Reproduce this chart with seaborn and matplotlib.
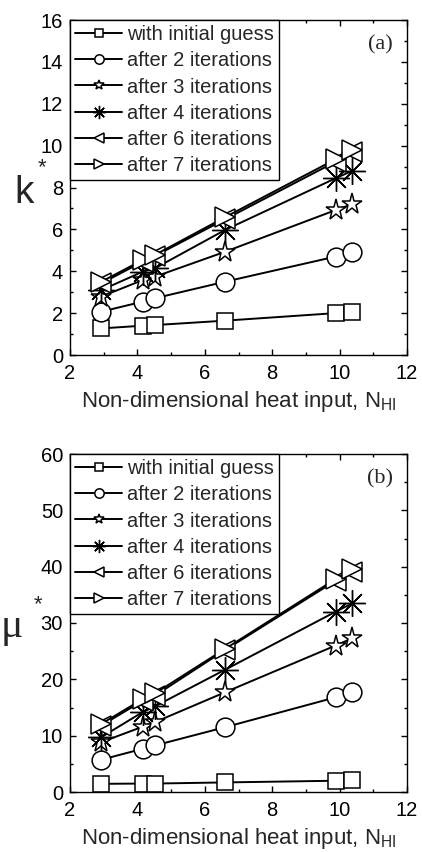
import matplotlib
matplotlib.use("Agg")
import matplotlib.pyplot as plt
from matplotlib.ticker import MultipleLocator
import pandas as pd
import seaborn as sns

# ── Data ──────────────────────────────────────────────────────────────────────
n_hi = [2.93, 4.16, 4.52, 6.6, 9.88, 10.38]

series_labels = [
    "with initial guess",
    "after 2 iterations",
    "after 3 iterations",
    "after 4 iterations",
    "after 6 iterations",
    "after 7 iterations",
]

k_initial = [1.27, 1.40, 1.43, 1.64, 2.00, 2.05]
k_iter2   = [2.07, 2.55, 2.71, 3.50, 4.70, 4.93]
k_iter3   = [2.79, 3.58, 3.74, 4.93, 6.92, 7.21]
k_iter4   = [3.10, 3.98, 4.14, 5.97, 8.44, 8.80]
k_iter6   = [3.42, 4.46, 4.73, 6.48, 9.23, 9.71]
k_iter7   = [3.50, 4.54, 4.78, 6.58, 9.35, 9.79]

mu_initial = [1.45, 1.50, 1.50, 1.70, 2.00, 2.10]
mu_iter2   = [5.73, 7.68, 8.26, 11.5, 16.8, 17.7]
mu_iter3   = [8.85, 11.6, 12.4, 17.7, 26.0, 27.3]
mu_iter4   = [9.73, 14.2, 15.2, 21.7, 32.0, 33.5]
mu_iter6   = [11.8, 16.2, 17.1, 25.2, 37.5, 39.1]
mu_iter7   = [12.1, 16.5, 17.5, 25.4, 37.8, 39.5]

k_series  = [k_initial, k_iter2, k_iter3, k_iter4, k_iter6, k_iter7]
mu_series = [mu_initial, mu_iter2, mu_iter3, mu_iter4, mu_iter6, mu_iter7]

# marker style per series (square, circle, star, asterisk, left/right triangle)
markers = ["s", "o", "*", (8, 2, 0), "<", ">"]
msizes  = [11.5, 13.5, 15.5, 19, 14.5, 14.5]
medges  = [1.1, 1.1, 1.1, 1.0, 1.1, 1.1]


def long_table(series):
    rows = []
    for lab, vals in zip(series_labels, series):
        for x, v in zip(n_hi, vals):
            rows.append({"N_HI": x, "value": v, "series": lab})
    return pd.DataFrame(rows)


# ── Style ─────────────────────────────────────────────────────────────────────
sns.set_style("ticks")
plt.rcParams["font.family"] = ["Liberation Sans", "DejaVu Sans"]
plt.rcParams["mathtext.default"] = "regular"

fig = plt.figure(figsize=(4.22, 8.52), dpi=100)
W, H = 422, 852


def rect(left, top, right, bottom):
    return [left / W, 1 - bottom / H, (right - left) / W, (bottom - top) / H]


ax_k  = fig.add_axes(rect(70, 20, 407, 355))
ax_mu = fig.add_axes(rect(70, 454, 407, 792))


def draw_panel(ax, series, ymax, ymajor, tag):
    df = long_table(series)
    for lab, mk, ms, mew in zip(series_labels, markers, msizes, medges):
        sub = df[df["series"] == lab]
        sns.lineplot(
            data=sub, x="N_HI", y="value",
            ax=ax, color="black", linewidth=1.4,
            marker=mk, markersize=ms,
            markerfacecolor="white", markeredgecolor="black",
            markeredgewidth=mew,
            estimator=None, sort=False, label=lab,
            clip_on=False,
        )

    ax.set_xlim(2, 12)
    ax.set_ylim(0, ymax)
    ax.xaxis.set_major_locator(MultipleLocator(2))
    ax.xaxis.set_minor_locator(MultipleLocator(1))
    ax.yaxis.set_major_locator(MultipleLocator(ymajor))
    ax.yaxis.set_minor_locator(MultipleLocator(ymajor / 2))
    ax.tick_params(which="both", direction="in", top=True, right=True,
                   width=1.0, colors="black")
    ax.tick_params(which="major", length=4.5, labelsize=14.5)
    ax.tick_params(axis="x", which="major", pad=6.5)
    ax.tick_params(axis="y", which="major", pad=5)
    ax.tick_params(which="minor", length=2.5)
    for sp in ax.spines.values():
        sp.set_visible(True)
        sp.set_linewidth(1.0)
        sp.set_color("black")

    ax.set_xlabel("Non-dimensional heat input, N$_{\\mathregular{HI}}$",
                  fontsize=16, labelpad=4)
    ax.set_ylabel("")

    leg = ax.legend(
        loc="upper left", bbox_to_anchor=(0, 1), borderaxespad=0,
        fontsize=14.5, frameon=True, fancybox=False, framealpha=1,
        edgecolor="black", handlelength=2.35, handletextpad=0.25,
        labelspacing=0.36, borderpad=0.25, markerscale=0.5,
    )
    leg.get_frame().set_linewidth(1.0)

    ax.text(0.92, 0.925, tag, transform=ax.transAxes, ha="center",
            va="center", fontsize=16, family=["Liberation Serif"])


draw_panel(ax_k, k_series, 16, 2, "(a)")
draw_panel(ax_mu, mu_series, 60, 10, "(b)")

# y-axis symbols, written horizontally as in the reference
fig.text(24 / W, 1 - 203 / H, "k", fontsize=28, ha="center", va="baseline")
fig.text(42 / W, 1 - 168 / H, "*", fontsize=16, ha="center", va="center")
fig.text(12 / W, 1 - 637 / H, "μ", fontsize=30, ha="center", va="baseline",
         family=["Liberation Serif"])
fig.text(38 / W, 1 - 605 / H, "*", fontsize=16, ha="center", va="center")

fig.savefig("out.png", dpi=100)
